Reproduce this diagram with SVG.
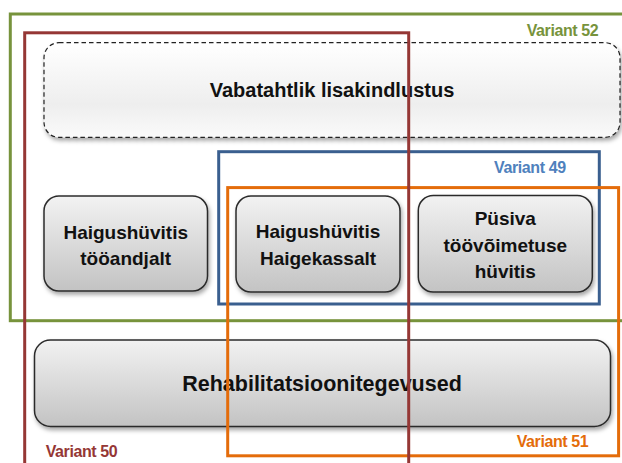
<svg xmlns="http://www.w3.org/2000/svg" width="622" height="463" viewBox="0 0 622 463">
<style>
.box{fill:url(#gBox);stroke:#2b2b2b;stroke-width:1.5;filter:url(#sh)}
.dash{fill:url(#gDash);stroke:#222;stroke-width:1.2;stroke-dasharray:4.5 3;filter:url(#sh)}
.t{font-family:"Liberation Sans",Arial,sans-serif;font-weight:bold;fill:#111;text-anchor:middle}
.lbl{font-family:"Liberation Sans",Arial,sans-serif;font-weight:bold;font-size:16px;letter-spacing:-0.4px}
.fr{fill:none;stroke-width:3}
</style>
<defs>
<linearGradient id="gBox" x1="0" y1="0" x2="0" y2="1">
<stop offset="0" stop-color="#f2f2f2"/>
<stop offset="1" stop-color="#c3c3c3"/>
</linearGradient>
<linearGradient id="gDash" x1="0" y1="0" x2="0" y2="1">
<stop offset="0" stop-color="#ffffff"/>
<stop offset="0.65" stop-color="#eeeeee"/>
<stop offset="1" stop-color="#fafafa"/>
</linearGradient>
<filter id="sh" x="-10%" y="-10%" width="125%" height="130%">
<feDropShadow dx="1.5" dy="3" stdDeviation="2" flood-color="#000" flood-opacity="0.35"/>
</filter>
</defs>
<rect width="622" height="463" fill="#fff"/>
<g id="node-vabatahtlik">
<rect class="dash" x="44" y="42.7" width="576" height="94.6" rx="15"/>
<text class="t" x="332" y="96.5" font-size="20">Vabatahtlik lisakindlustus</text>
</g>
<g id="node-haigus-tooandjalt">
<rect class="box" x="44" y="196" width="163.5" height="95" rx="15"/>
<text class="t" x="125.7" y="238.5" font-size="19">Haigushüvitis</text>
<text class="t" x="125.7" y="264.5" font-size="19">tööandjalt</text>
</g>
<g id="node-haigus-haigekassalt">
<rect class="box" x="236" y="196" width="164" height="96" rx="15"/>
<text class="t" x="318" y="238" font-size="19">Haigushüvitis</text>
<text class="t" x="318" y="264.5" font-size="19">Haigekassalt</text>
</g>
<g id="node-pusiva">
<rect class="box" x="418.3" y="195.5" width="174" height="96.5" rx="15"/>
<text class="t" x="505.3" y="224.5" font-size="19">Püsiva</text>
<text class="t" x="505.3" y="251.5" font-size="19">töövõimetuse</text>
<text class="t" x="505.3" y="278.3" font-size="19">hüvitis</text>
</g>
<g id="node-rehab">
<rect class="box" x="34.5" y="340" width="576" height="86.5" rx="16"/>
<text class="t" x="322" y="391" font-size="21.5">Rehabilitatsioonitegevused</text>
</g>
<g id="connectors">
<g id="variant52">
<rect class="fr" x="10.3" y="14" width="630" height="306.7" stroke="#77933C"/>
<text class="lbl" x="598.3" y="35.7" fill="#77933C" text-anchor="end">Variant 52</text>
</g>
<g id="variant49">
<rect class="fr" x="218.7" y="151.7" width="380.6" height="152.3" stroke="#3A5F8F"/>
<text class="lbl" x="565.7" y="172.7" fill="#4F81BD" text-anchor="end">Variant 49</text>
</g>
<g id="variant51">
<rect class="fr" x="227.7" y="187.6" width="390.9" height="268.2" stroke="#E46C0A"/>
<text class="lbl" x="588.3" y="447.3" fill="#E46C0A" text-anchor="end">Variant 51</text>
</g>
<g id="variant50">
<rect class="fr" x="24.7" y="32.8" width="384" height="460" stroke="#953735"/>
<text class="lbl" x="45.7" y="457.3" fill="#953735">Variant 50</text>
</g>
</g>
</svg>
